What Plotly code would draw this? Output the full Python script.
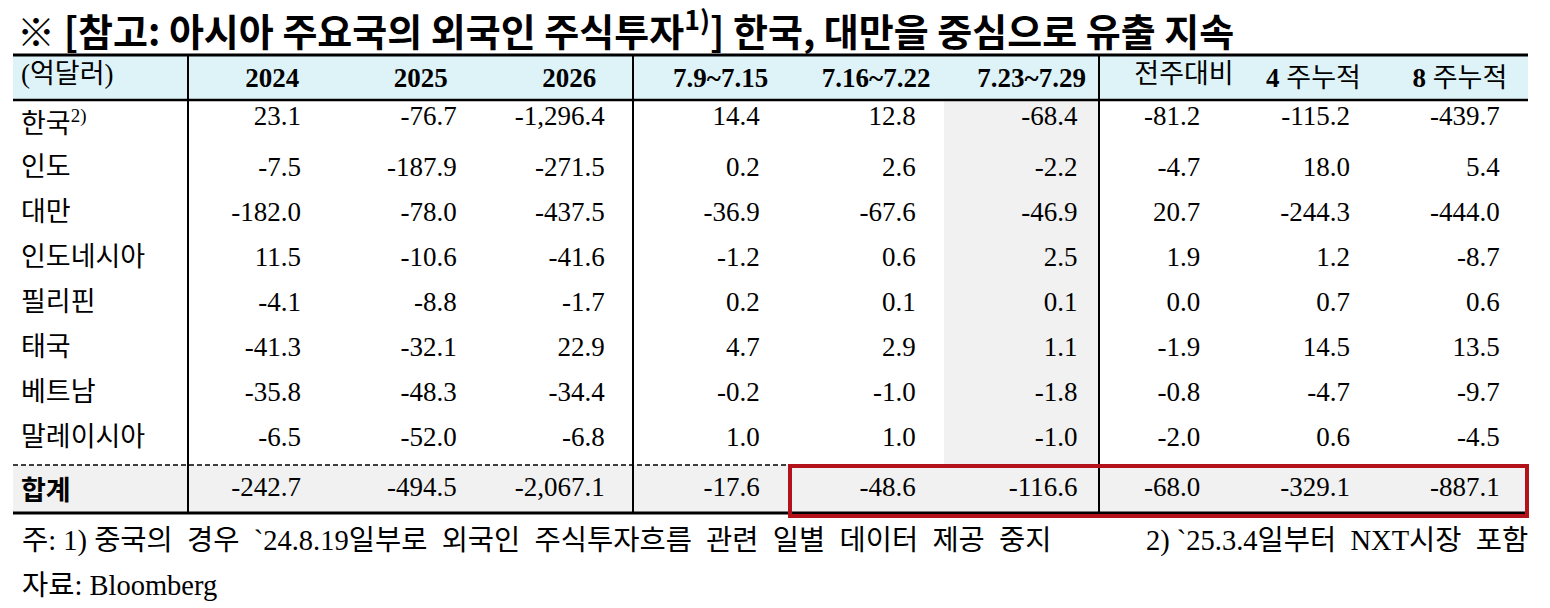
import plotly.graph_objects as go

# Data (억달러)
row_labels = ["한국<sup>2)</sup>", "인도", "대만", "인도네시아", "필리핀", "태국", "베트남", "말레이시아"]
total_label = "<b>합계</b>"
header_labels = ["(억달러)", "<b>2024</b>", "<b>2025</b>", "<b>2026</b>",
                 "<b>7.9~7.15</b>", "<b>7.16~7.22</b>", "<b>7.23~7.29</b>",
                 "전주대비", "<b>4</b> 주누적", "<b>8</b> 주누적"]

y2024 = [23.1, -7.5, -182.0, 11.5, -4.1, -41.3, -35.8, -6.5]
y2025 = [-76.7, -187.9, -78.0, -10.6, -8.8, -32.1, -48.3, -52.0]
y2026 = [-1296.4, -271.5, -437.5, -41.6, -1.7, 22.9, -34.4, -6.8]
wk_0709 = [14.4, 0.2, -36.9, -1.2, 0.2, 4.7, -0.2, 1.0]
wk_0716 = [12.8, 2.6, -67.6, 0.6, 0.1, 2.9, -1.0, 1.0]
wk_0723 = [-68.4, -2.2, -46.9, 2.5, 0.1, 1.1, -1.8, -1.0]
wow = [-81.2, -4.7, 20.7, 1.9, 0.0, -1.9, -0.8, -2.0]
cum4 = [-115.2, 18.0, -244.3, 1.2, 0.7, 14.5, -4.7, 0.6]
cum8 = [-439.7, 5.4, -444.0, -8.7, 0.6, 13.5, -9.7, -4.5]
totals = [-242.7, -494.5, -2067.1, -17.6, -48.6, -116.6, -68.0, -329.1, -887.1]

series = [y2024, y2025, y2026, wk_0709, wk_0716, wk_0723, wow, cum4, cum8]

title_text = "※ [참고: 아시아 주요국의 외국인 주식투자<sup>1)</sup>] 한국, 대만을 중심으로 유출 지속"
note1 = "주: 1) 중국의  경우  `24.8.19일부로  외국인  주식투자흐름  관련  일별  데이터  제공  중지"
note2 = "2) `25.3.4일부터  NXT시장  포함"
source = "자료: Bloomberg"

# Layout (pixels)
W, H = 1550, 608
LEFT, TOP = 13, 55
HEAD_BOTTOM, TOTAL_TOP, BOTTOM = 100, 465, 513
BODY_START = 96          # cell text sits a little high in the source table
EMPTY_HEADER = 15        # space plotly keeps above the cells when there is no header
ROW_H = 45
col_w = [175, 148, 149, 148, 155, 156, 155, 143, 143, 143]
right_pad = [4, 3, 3, 3, 3, 2, 5, 4, 3]        # nbsp after each number
head_shift = [0, 3, 3, 3, 3, 3, 3, 4, 0, 1]    # nbsp before each header label
HIGHLIGHT_COL = 6
FONT = "Liberation Serif, Noto Sans CJK KR"
BLUE = "#def3f8"
GRAY = "#f1f1f1"
RED = "#b3121a"
NONE = "rgba(0,0,0,0)"


def fmt(v, pad):
    return f"{v:,.1f}" + "\u00a0" * pad


def px(x):
    return x / W


def py(y):
    return 1 - y / H


n_rows = len(row_labels)
headers = ["\u00a0" * s + h for s, h in zip(head_shift, header_labels)]
columns = [row_labels] + [[fmt(v, p) for v in vals] for vals, p in zip(series, right_pad)]
total_row = [total_label] + [fmt(t, p) for t, p in zip(totals, right_pad)]

table_w = sum(col_w)
x_dom = [px(LEFT), px(LEFT + table_w)]
cell_font = dict(family=FONT, size=27, color="black")
left_right = ["left"] + ["right"] * 9
total_start = TOTAL_TOP + 3

fig = go.Figure()
# country rows
fig.add_trace(go.Table(
    domain=dict(x=x_dom, y=[py(TOTAL_TOP - 1), py(BODY_START - EMPTY_HEADER)]),
    columnwidth=col_w,
    header=dict(values=[], fill_color=NONE, line_width=0),
    cells=dict(values=columns, height=ROW_H, align=left_right,
               fill_color=NONE, line_width=0, font=cell_font),
))
# column headers
fig.add_trace(go.Table(
    domain=dict(x=x_dom, y=[py(HEAD_BOTTOM + 2), py(TOP)]),
    columnwidth=col_w,
    header=dict(values=headers, height=HEAD_BOTTOM - TOP, align=["left"] + ["center"] * 9,
                fill_color=NONE, line_width=0, font=cell_font),
    cells=dict(values=[], line_width=0, fill_color=NONE),
))
# total row
fig.add_trace(go.Table(
    domain=dict(x=x_dom, y=[py(BOTTOM + 2), py(total_start)]),
    columnwidth=col_w,
    header=dict(values=total_row, height=BOTTOM - total_start, align=left_right,
                fill_color=NONE, line_width=0, font=cell_font),
    cells=dict(values=[], line_width=0, fill_color=NONE),
))

edges = [LEFT]
for w in col_w:
    edges.append(edges[-1] + w)

shapes = [
    # backgrounds
    dict(type="rect", x0=px(edges[0]), x1=px(edges[-1]), y0=py(TOP), y1=py(HEAD_BOTTOM),
         fillcolor=BLUE, line_width=0, layer="below"),
    dict(type="rect", x0=px(edges[HIGHLIGHT_COL]), x1=px(edges[HIGHLIGHT_COL + 1]),
         y0=py(HEAD_BOTTOM), y1=py(TOTAL_TOP), fillcolor=GRAY, line_width=0, layer="below"),
    dict(type="rect", x0=px(edges[0]), x1=px(edges[-1]), y0=py(TOTAL_TOP), y1=py(BOTTOM),
         fillcolor=GRAY, line_width=0, layer="below"),
]
for y, wd in [(TOP, 3), (HEAD_BOTTOM, 2.5), (BOTTOM, 3)]:
    shapes.append(dict(type="line", x0=px(edges[0]), x1=px(edges[-1]), y0=py(y), y1=py(y),
                       line=dict(color="black", width=wd)))
for k in [1, 4, 7]:
    shapes.append(dict(type="line", x0=px(edges[k]), x1=px(edges[k]), y0=py(TOP), y1=py(BOTTOM),
                       line=dict(color="black", width=2)))
shapes.append(dict(type="line", x0=px(edges[0]), x1=px(edges[-1]), y0=py(TOTAL_TOP), y1=py(TOTAL_TOP),
                   line=dict(color="black", width=1.5, dash="5px,3px")))
shapes.append(dict(type="rect", x0=px(edges[5] + 2), x1=px(edges[-1] - 1),
                   y0=py(TOTAL_TOP + 1), y1=py(BOTTOM + 3),
                   line=dict(color=RED, width=4)))
for s in shapes:
    s.update(xref="paper", yref="paper")

note_font = dict(family=FONT, size=28.5, color="black")
annotations = [
    dict(text=title_text, x=px(15), y=py(28), xanchor="left", yanchor="middle",
         font=dict(family="Noto Sans CJK KR", size=38, color="black", weight="bold")),
    dict(text=note1, x=px(20), y=py(541), xanchor="left", yanchor="middle", font=note_font),
    dict(text=note2, x=px(1530), y=py(541), xanchor="right", yanchor="middle", font=note_font),
    dict(text=source, x=px(20), y=py(585), xanchor="left", yanchor="middle", font=note_font),
]
for a in annotations:
    a.update(xref="paper", yref="paper", showarrow=False)

fig.update_layout(width=W, height=H, margin=dict(l=0, r=0, t=0, b=0),
                  paper_bgcolor="white", plot_bgcolor="white",
                  shapes=shapes, annotations=annotations)

fig.write_html("out.html", config={"displayModeBar": False},
               post_script="document.body.style.margin = '0';")
